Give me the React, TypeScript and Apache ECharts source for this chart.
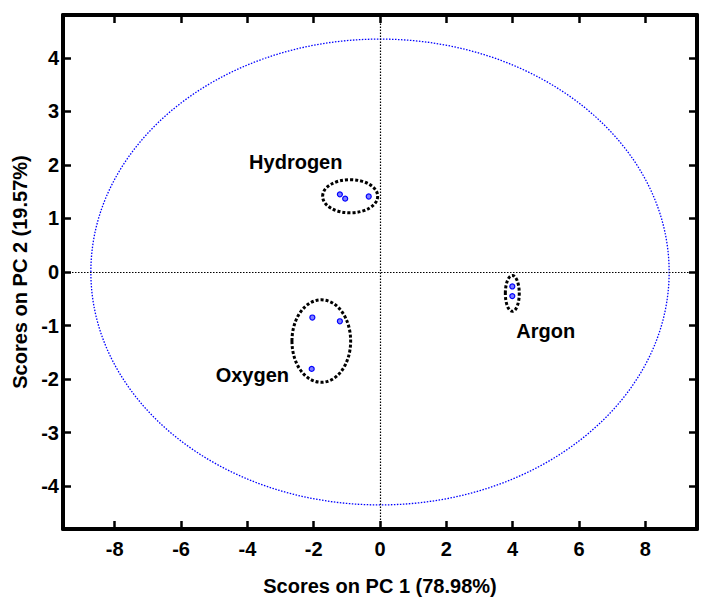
import React, { useEffect, useRef } from "react";
import * as echarts from "echarts";

// ---- data ----
const xTicks = [-8, -6, -4, -2, 0, 2, 4, 6, 8];
const yTicks = [-4, -3, -2, -1, 0, 1, 2, 3, 4];
const xRange = [-9.56, 9.56];
const yRange = [-4.8, 4.8];

const hydrogen = [
  [-1.21, 1.45],
  [-1.05, 1.37],
  [-0.34, 1.41],
];
const oxygen = [
  [-2.04, -0.85],
  [-1.21, -0.92],
  [-2.06, -1.81],
];
const argon = [
  [3.99, -0.27],
  [3.99, -0.45],
];

// [centerX, centerY, radiusX, radiusY]
const groupEllipses = [
  [-0.9, 1.415, 0.83, 0.31],
  [-1.77, -1.29, 0.885, 0.77],
  [3.99, -0.4, 0.21, 0.335],
];
const confidenceEllipse = [[0, 0, 8.72, 4.35]];

const groupLabelNames = ["Hydrogen", "Oxygen", "Argon"];
const groupLabelPositions = [
  [-2.54, 2.05],
  [-3.85, -1.92],
  [5.0, -1.11],
];

const xTitle = "Scores on PC 1 (78.98%)";
const yTitle = "Scores on PC 2 (19.57%)";

const FONT = "'Liberation Sans', Arial, Helvetica, sans-serif";

export default function App() {
  const ref = useRef<HTMLDivElement>(null);

  useEffect(() => {
    if (!ref.current) return;
    const chart = echarts.init(ref.current, undefined, { renderer: "svg" });

    const axisLine = { show: true, onZero: false, lineStyle: { color: "#000", width: 4 } };
    const tickStyle = { color: "#000", width: 2.5 };

    const ellipseItem = (stroke: string, lineWidth: number, dash: number[]) =>
      (params: any, api: any) => {
        const c = api.coord([api.value(0), api.value(1)]);
        const s = api.size([api.value(2), api.value(3)]);
        return {
          type: "ellipse",
          shape: { cx: c[0], cy: c[1], rx: s[0], ry: s[1] },
          style: { fill: "none", stroke, lineWidth, lineDash: dash },
        };
      };

    const pointStyle = {
      color: "#7f7fff",
      borderColor: "#0000ff",
      borderWidth: 1.2,
      opacity: 1,
    };

    chart.setOption({
      animation: false,
      backgroundColor: "#fff",
      textStyle: { fontFamily: FONT },
      grid: {
        left: 63,
        right: 5,
        top: 15,
        bottom: 74,
        containLabel: false,
        outerBoundsMode: "none",
      },
      xAxis: [
        {
          type: "value",
          position: "bottom",
          min: xRange[0],
          max: xRange[1],
          axisLine,
          splitLine: { show: false },
          axisTick: { show: true, inside: true, length: 8, lineStyle: tickStyle, customValues: xTicks },
          axisLabel: {
            show: true,
            customValues: xTicks,
            margin: 10,
            color: "#000",
            fontSize: 20,
            fontWeight: "bold",
            fontFamily: FONT,
          },
          name: xTitle,
          nameLocation: "middle",
          nameGap: 47,
          nameTextStyle: { color: "#000", fontSize: 20, fontWeight: "bold", fontFamily: FONT },
        },
        {
          type: "value",
          position: "top",
          min: xRange[0],
          max: xRange[1],
          axisLine,
          splitLine: { show: false },
          axisTick: { show: true, inside: true, length: 8, lineStyle: tickStyle, customValues: xTicks },
          axisLabel: { show: false },
        },
      ],
      yAxis: [
        {
          type: "value",
          position: "left",
          min: yRange[0],
          max: yRange[1],
          axisLine,
          splitLine: { show: false },
          axisTick: { show: true, inside: true, length: 8, lineStyle: tickStyle, customValues: yTicks },
          axisLabel: {
            show: true,
            customValues: yTicks,
            margin: 4,
            color: "#000",
            fontSize: 20,
            fontWeight: "bold",
            fontFamily: FONT,
          },
          name: yTitle,
          nameLocation: "middle",
          nameGap: 32,
          nameRotate: 90,
          nameTextStyle: { color: "#000", fontSize: 20, fontWeight: "bold", fontFamily: FONT },
        },
        {
          type: "value",
          position: "right",
          min: yRange[0],
          max: yRange[1],
          axisLine,
          splitLine: { show: false },
          axisTick: { show: true, inside: true, length: 8, lineStyle: tickStyle, customValues: yTicks },
          axisLabel: { show: false },
        },
      ],
      series: [
        {
          type: "custom",
          name: "confidence",
          xAxisIndex: 0,
          yAxisIndex: 0,
          renderItem: ellipseItem("#0000ff", 1.3, [1.5, 1.5]),
          encode: { x: 0, y: 1 },
          data: confidenceEllipse,
          silent: true,
          z: 2,
          markLine: {
            silent: true,
            symbol: ["none", "none"],
            label: { show: false },
            lineStyle: { color: "#000", width: 1.2, type: [1.5, 1.5] },
            data: [{ xAxis: 0 }, { yAxis: 0 }],
          },
        },
        {
          type: "custom",
          name: "groups",
          xAxisIndex: 0,
          yAxisIndex: 0,
          renderItem: ellipseItem("#000", 3, [3, 2]),
          encode: { x: 0, y: 1 },
          data: groupEllipses,
          silent: true,
          z: 3,
        },
        {
          type: "scatter",
          name: "Hydrogen",
          data: hydrogen,
          symbol: "circle",
          symbolSize: 5,
          itemStyle: pointStyle,
          z: 4,
        },
        {
          type: "scatter",
          name: "Oxygen",
          data: oxygen,
          symbol: "circle",
          symbolSize: 5,
          itemStyle: pointStyle,
          z: 4,
        },
        {
          type: "scatter",
          name: "Argon",
          data: argon,
          symbol: "circle",
          symbolSize: 5,
          itemStyle: pointStyle,
          z: 4,
        },
        {
          type: "scatter",
          name: "labels",
          symbolSize: 0,
          silent: true,
          itemStyle: { opacity: 1 },
          data: groupLabelNames.map((n, i) => ({ name: n, value: groupLabelPositions[i] })),
          label: {
            show: true,
            position: "inside",
            formatter: "{b}",
            color: "#000",
            textBorderWidth: 0,
            fontSize: 20,
            fontWeight: "bold",
            fontFamily: FONT,
          },
          z: 5,
        },
      ],
    });

    return () => chart.dispose();
  }, []);

  return (
    <div
      ref={ref}
      style={{ position: "fixed", left: 0, top: 0, width: 702, height: 603, background: "#fff" }}
    />
  );
}
